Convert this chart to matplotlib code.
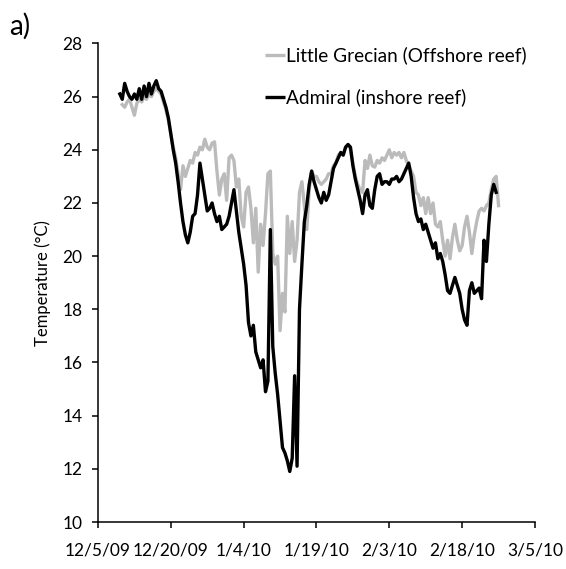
import numpy as np
import matplotlib
matplotlib.use("Agg")
import matplotlib.pyplot as plt

plt.rcParams["font.family"] = ["Lato", "DejaVu Sans"]

# Water temperature (°C), readings every 12 hours
admiral_start = "2009-12-09T12:00"
admiral_temp = [
    26.1, 25.9, 26.5, 26.2, 26.0, 25.9, 26.1, 25.9, 26.3, 25.9,
    26.4, 26.0, 26.5, 26.1, 26.4, 26.6, 26.3, 26.2, 25.9, 25.6,
    25.2, 24.6, 24.0, 23.5, 22.8, 22.0, 21.3, 20.8, 20.5, 20.9,
    21.5, 21.6, 22.3, 23.5, 22.9, 22.3, 21.7, 21.8, 22.0, 21.6,
    21.3, 21.5, 21.0, 21.1, 21.2, 21.5, 22.0, 22.5, 21.7, 20.9,
    20.3, 19.7, 18.9, 17.5, 17.0, 17.4, 16.4, 16.1, 15.8, 16.1,
    14.9, 15.3, 21.0, 16.6, 15.6, 14.8, 13.8, 12.8, 12.6, 12.3,
    11.9, 12.4, 15.5, 12.1, 18.0, 19.7, 21.3, 21.9, 22.7, 23.2,
    22.8, 22.5, 22.2, 22.0, 22.4, 22.1, 22.3, 22.8, 23.3, 23.5,
    23.7, 23.9, 23.8, 24.1, 24.2, 24.1, 23.4, 22.9, 22.5, 22.1,
    21.6, 22.3, 22.5, 21.9, 21.8, 22.5, 23.0, 23.1, 22.7, 22.8,
    22.8, 22.7, 22.9, 22.9, 23.0, 22.8, 22.9, 23.1, 23.3, 23.5,
    23.0, 22.2, 21.6, 21.3, 21.4, 21.0, 21.2, 20.9, 20.6, 20.3,
    20.5, 19.9, 20.1, 19.8, 19.3, 18.7, 18.6, 18.9, 19.2, 18.9,
    18.6, 18.0, 17.6, 17.4, 18.7, 19.0, 18.6, 18.7, 18.8, 18.4,
    20.6, 19.8, 21.2, 22.3, 22.7, 22.4,
]

grecian_start = "2009-12-10T00:00"
grecian_temp = [
    25.7, 25.6, 25.8, 25.9, 25.6, 25.3, 25.75, 25.9, 25.8, 26.0,
    25.9, 26.1, 26.0, 26.2, 26.3, 26.2, 26.1, 25.8, 25.5, 25.1,
    24.6, 24.1, 23.7, 23.1, 22.5, 23.4, 23.0, 23.3, 23.6, 23.5,
    23.9, 23.8, 24.1, 24.0, 24.4, 24.1, 24.0, 24.25, 24.3, 23.2,
    22.3, 22.9, 23.1, 22.1, 23.7, 23.8, 23.6, 22.6, 22.9, 21.5,
    21.1, 22.4, 22.6, 21.8, 20.5, 21.8, 19.4, 21.2, 20.4, 21.6,
    23.1, 23.2, 20.1, 19.7, 20.0, 17.2, 18.6, 17.9, 21.5, 20.1,
    21.3, 19.8, 20.6, 22.4, 22.8, 21.9, 21.0, 22.5, 23.2, 23.0,
    23.0, 22.8, 22.7, 22.8, 22.9, 23.1, 23.1, 23.4, 23.5, 23.8,
    23.9, 23.8, 24.1, 24.2, 24.0, 23.5, 23.0, 22.7, 22.5, 22.4,
    23.6, 23.3, 23.8, 23.4, 23.35, 23.6, 23.5, 23.7, 23.6, 23.8,
    24.0, 23.7, 23.9, 23.8, 23.9, 23.7, 23.9, 23.6, 23.4, 23.2,
    23.0, 22.4, 22.3, 21.9, 22.2, 21.6, 22.2, 21.6, 22.0, 21.2,
    21.1, 21.3, 20.6, 20.0, 20.6, 19.9, 20.7, 21.2, 20.6, 20.2,
    20.4, 21.1, 21.5, 20.9, 20.1, 20.8, 21.3, 21.7, 21.8, 21.7,
    21.9, 22.0, 22.5, 22.9, 23.0, 21.9,
]

series_labels = ["Little Grecian (Offshore reef)", "Admiral (inshore reef)"]
x_tick_dates = ["2009-12-05", "2009-12-20", "2010-01-04", "2010-01-19",
                "2010-02-03", "2010-02-18", "2010-03-05"]
x_tick_labels = ["12/5/09", "12/20/09", "1/4/10", "1/19/10", "2/3/10", "2/18/10", "3/5/10"]
y_ticks = [10, 12, 14, 16, 18, 20, 22, 24, 26, 28]

step = np.timedelta64(12, "h")
admiral_time = np.datetime64(admiral_start) + step * np.arange(len(admiral_temp))
grecian_time = np.datetime64(grecian_start) + step * np.arange(len(grecian_temp))

GREY = "#BBBBBB"
LW = 2.4

fig = plt.figure(figsize=(5.66, 5.69), dpi=100)
ax = fig.add_axes([0.1731, 0.0826, 0.7721, 0.8410])

ax.plot(grecian_time, grecian_temp, color=GREY, lw=LW, solid_joinstyle="round")
ax.plot(admiral_time, admiral_temp, color="black", lw=LW, solid_joinstyle="round")

tick_dates = np.array(x_tick_dates, dtype="datetime64[D]")
ax.set_xlim(tick_dates[0], tick_dates[-1])
ax.set_xticks(tick_dates)
ax.set_xticklabels(x_tick_labels)
ax.set_ylim(y_ticks[0], y_ticks[-1])
ax.set_yticks(y_ticks)

for side in ("top", "right"):
    ax.spines[side].set_visible(False)
for side in ("left", "bottom"):
    ax.spines[side].set_linewidth(1.1)
    ax.spines[side].set_color("black")

ax.tick_params(axis="both", direction="out", length=4, width=1.1, labelsize=12.5, colors="black")
ax.tick_params(axis="y", pad=7)
ax.tick_params(axis="x", pad=11)

ax.set_ylabel("Temperature (°C)", fontsize=12, labelpad=8)

# legend drawn as short line samples with text beside them
leg_y = [0.976, 0.888]
leg_colors = [GREY, "black"]
for yy, col, lab in zip(leg_y, leg_colors, series_labels):
    ax.plot([0.3826, 0.4283], [yy, yy], transform=ax.transAxes, color=col, lw=LW,
            clip_on=False, solid_capstyle="butt")
    ax.text(0.431, yy, lab, transform=ax.transAxes, fontsize=13.7, va="center", ha="left")

fig.text(0.016, 0.953, "a)", fontsize=20, va="center", ha="left")

fig.savefig("out.png", dpi=100)
